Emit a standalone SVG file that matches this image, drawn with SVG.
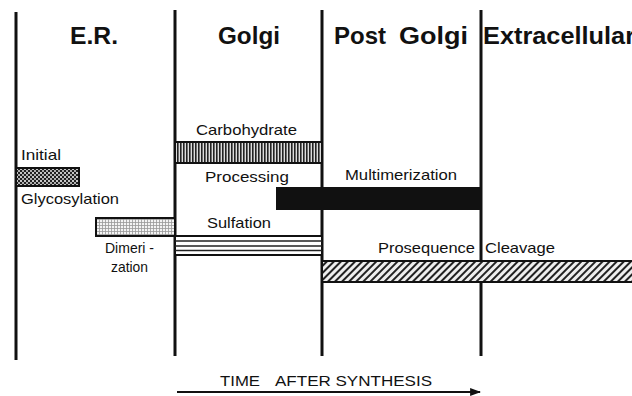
<svg xmlns="http://www.w3.org/2000/svg" width="632" height="396" viewBox="0 0 632 396">
<defs>
<style>
.vl{stroke:#111;stroke-width:3;fill:none}
.bar{stroke:#111;stroke-width:2}
.hd{font-family:"Liberation Sans",Arial,sans-serif;font-weight:bold;font-size:24px;fill:#111}
.lb{font-family:"Liberation Sans",Arial,sans-serif;font-size:14.5px;fill:#111}
.ax{font-family:"Liberation Sans",Arial,sans-serif;font-size:15px;fill:#111}
</style>
<pattern id="dots" width="4" height="4" patternUnits="userSpaceOnUse">
<rect width="4" height="4" fill="#222"/>
<circle cx="1" cy="1" r="1" fill="#fff"/>
<circle cx="3" cy="3" r="1" fill="#ddd"/>
</pattern>
<pattern id="grid" width="3" height="3" patternUnits="userSpaceOnUse">
<rect width="3" height="3" fill="#f4f4f4"/>
<path d="M0 0.5H3M0.5 0V3" stroke="#999" stroke-width="0.8"/>
</pattern>
<pattern id="vstripe" width="3" height="10" patternUnits="userSpaceOnUse">
<rect width="3" height="10" fill="#ddd"/>
<rect width="1.6" height="10" fill="#222"/>
</pattern>
<pattern id="diag" width="5" height="5" patternUnits="userSpaceOnUse" patternTransform="rotate(45)">
<rect width="5" height="5" fill="#eee"/>
<rect width="2" height="5" fill="#222"/>
</pattern>
<marker id="arr" viewBox="0 0 10 10" refX="9" refY="5" markerWidth="11" markerHeight="8" markerUnits="userSpaceOnUse" orient="auto" preserveAspectRatio="none">
<path d="M0 0L10 5L0 10Z" fill="#111"/>
</marker>
</defs>
<rect width="632" height="396" fill="#fff"/>

<g id="columns">
<line class="vl" x1="16" y1="12" x2="16" y2="360"/>
<line class="vl" x1="175" y1="10" x2="175" y2="356"/>
<line class="vl" x1="322" y1="10" x2="322" y2="356"/>
<line class="vl" x1="481" y1="10" x2="481" y2="356"/>
</g>

<g id="headers">
<text class="hd" x="70" y="44" textLength="48" lengthAdjust="spacingAndGlyphs">E.R.</text>
<text class="hd" x="218" y="44" textLength="62" lengthAdjust="spacingAndGlyphs">Golgi</text>
<text class="hd" x="334" y="44" textLength="52" lengthAdjust="spacingAndGlyphs">Post</text>
<text class="hd" x="399" y="44" textLength="69" lengthAdjust="spacingAndGlyphs">Golgi</text>
<text class="hd" x="483" y="44" textLength="152" lengthAdjust="spacingAndGlyphs">Extracellular</text>
</g>

<g id="initial-glycosylation">
<rect class="bar" x="16" y="168" width="63" height="18" fill="url(#dots)"/>
<text class="lb" x="21" y="160" textLength="40" lengthAdjust="spacingAndGlyphs">Initial</text>
<text class="lb" x="21" y="204" textLength="98" lengthAdjust="spacingAndGlyphs">Glycosylation</text>
</g>

<g id="dimerization">
<rect class="bar" x="96" y="218" width="79" height="18" fill="url(#grid)"/>
<text class="lb" x="105" y="253" textLength="49" lengthAdjust="spacingAndGlyphs">Dimeri -</text>
<text class="lb" x="111" y="272" textLength="37" lengthAdjust="spacingAndGlyphs">zation</text>
</g>

<g id="carbohydrate-processing">
<rect class="bar" x="175" y="142" width="147" height="21" fill="url(#vstripe)"/>
<text class="lb" x="196" y="135" textLength="101" lengthAdjust="spacingAndGlyphs">Carbohydrate</text>
<text class="lb" x="205" y="182" textLength="84" lengthAdjust="spacingAndGlyphs">Processing</text>
</g>

<g id="multimerization">
<rect class="bar" x="277" y="188" width="204" height="21" fill="#111"/>
<text class="lb" x="345" y="180" textLength="112" lengthAdjust="spacingAndGlyphs">Multimerization</text>
</g>

<g id="sulfation">
<rect class="bar" x="175" y="236" width="147" height="19" fill="#fff"/>
<path d="M175 241H322M175 246H322M175 250.5H322" stroke="#222" stroke-width="1.6"/>
<text class="lb" x="207" y="228" textLength="64" lengthAdjust="spacingAndGlyphs">Sulfation</text>
</g>

<g id="prosequence-cleavage">
<rect class="bar" x="322" y="261" width="312" height="21" fill="url(#diag)"/>
<text class="lb" x="378" y="253" textLength="97" lengthAdjust="spacingAndGlyphs">Prosequence</text>
<text class="lb" x="485" y="253" textLength="70" lengthAdjust="spacingAndGlyphs">Cleavage</text>
</g>

<g id="connectors">
<line x1="177" y1="392" x2="480" y2="392" stroke="#111" stroke-width="2" marker-end="url(#arr)"/>
</g>
<g id="axis-label">
<text class="ax" x="220" y="386" textLength="40" lengthAdjust="spacingAndGlyphs">TIME</text>
<text class="ax" x="275" y="386" textLength="157" lengthAdjust="spacingAndGlyphs">AFTER SYNTHESIS</text>
</g>
</svg>
